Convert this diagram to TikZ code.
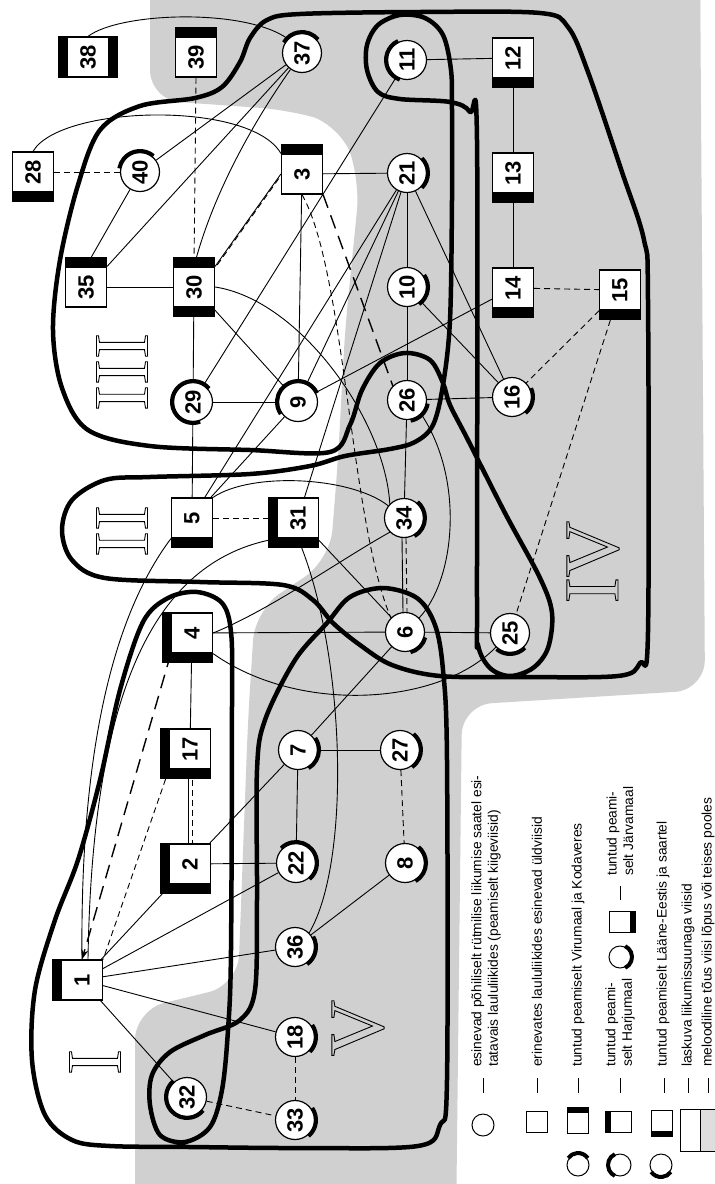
\documentclass[tikz,border=0pt]{standalone}
\usepackage{fontspec}
\setmainfont{Liberation Sans}
\newfontfamily\romanfont{Liberation Serif}
\usepackage{graphicx}
\usetikzlibrary{arrows.meta,calc}

\definecolor{shadegrey}{RGB}{208,208,208}
\definecolor{swatchgrey}{RGB}{222,222,222}

\newcommand\rt[1]{\rotatebox{90}{#1}}
\newcommand\hollow[1]{\special{pdf:literal direct 1 Tr 0.9 w}#1\special{pdf:literal direct 0 Tr}}
% thick arc on a tune circle: [radius]{node}{from}{to}, angles as seen
\newcommand\ringarc[4][21]{%
  \pgfmathsetmacro\arcfrom{-(#3)}\pgfmathsetmacro\arcto{-(#4)}%
  \draw[line width=4pt] ([shift={(\arcfrom:#1)}]#2.center) arc[start angle=\arcfrom, end angle=\arcto, radius=#1];}

\pgfdeclarelayer{shadelayer}
\pgfdeclarelayer{linklayer}
\pgfdeclarelayer{grouplayer}
\pgfsetlayers{shadelayer,linklayer,grouplayer,main}

\tikzset{
  tune/.style={circle, draw, line width=1.2pt, fill=white, minimum size=39pt, inner sep=0pt,
    font=\fontsize{22}{22}\selectfont\bfseries},
  tunebox/.style={rectangle, draw, line width=1.2pt, fill=white, minimum width=41pt, minimum height=40pt,
    inner sep=0pt, font=\fontsize{22}{22}\selectfont\bfseries},
  barT/.style={append after command={\pgfextra{\fill ([yshift=-1pt]\tikzlastnode.north west) rectangle ([yshift=#1]\tikzlastnode.north east);}}},
  barT/.default=9pt,
  barB/.style={append after command={\pgfextra{\fill ([yshift=1pt]\tikzlastnode.south west) rectangle ([yshift=-#1]\tikzlastnode.south east);}}},
  barB/.default=9pt,
  barL/.style={append after command={\pgfextra{\fill ([xshift=1pt]\tikzlastnode.south west) rectangle ([xshift=-#1]\tikzlastnode.north west);}}},
  barL/.default=9pt,
  barR/.style={append after command={\pgfextra{\fill ([xshift=-1pt]\tikzlastnode.south east) rectangle ([xshift=#1]\tikzlastnode.north east);}}},
  barR/.default=9pt,
  barLB/.style={barL=#1, barB=#1, append after command={\pgfextra{\fill ([xshift=-#1]\tikzlastnode.south west) rectangle ([yshift=-#1]\tikzlastnode.south west);}}},
  barLB/.default=9pt,
  link/.style={line width=0.9pt},
  dlink/.style={line width=0.9pt, dash pattern=on 6pt off 4pt},
  ldlink/.style={line width=1.4pt, dash pattern=on 14pt off 8pt},
  group/.style={line width=4.5pt, line join=round},
  roman/.style={inner sep=0pt, font=\romanfont\fontsize{78}{78}\selectfont},
  legtext/.style={rotate=90, anchor=west, align=left, inner sep=0pt, font=\fontsize{13.8}{16.5}\selectfont},
  legmark/.style={line width=1pt}
}

\begin{document}
\begin{tikzpicture}[x=1pt, y=-1pt]
\useasboundingbox (0,0) rectangle (715,1184);

% ---- grey shading (melodic rise) ----
\begin{pgfonlayer}{shadelayer}
\fill[shadegrey, rounded corners=30pt] (150,-40) -- (700,-40) -- (705,690) -- (462,705) -- (456,1230)
  -- (135,1230) -- (135,1010) -- (238,985) -- (248,720) -- (255,610) -- (330,560) -- (338,460)
  -- (345,330) -- (360,180) -- (340,125) -- (290,110) -- (150,100) -- cycle;
\end{pgfonlayer}

% ---- tunes: circles ----
\node[tune] (v37) at (302,53) {\rt{37}};
\node[tune] (v40) at (140,172) {\rt{40}};
\node[tune] (v11) at (407,60) {\rt{11}};
\node[tune] (v21) at (407,173) {\rt{21}};
\node[tune] (v10) at (407,287) {\rt{10}};
\node[tune] (v29) at (193,402) {\rt{29}};
\node[tune] (v9) at (298,402) {\rt{9}};
\node[tune] (v26) at (407,400) {\rt{26}};
\node[tune] (v16) at (512,397) {\rt{16}};
\node[tune] (v34) at (404,518) {\rt{34}};
\node[tune] (v6) at (405,632) {\rt{6}};
\node[tune] (v25) at (510,633) {\rt{25}};
\node[tune] (v7) at (298,750) {\rt{7}};
\node[tune] (v27) at (400,750) {\rt{27}};
\node[tune] (v22) at (296,863) {\rt{22}};
\node[tune] (v8) at (405,863) {\rt{8}};
\node[tune] (v36) at (295,947) {\rt{36}};
\node[tune] (v18) at (295,1037) {\rt{18}};
\node[tune] (v33) at (295,1120) {\rt{33}};
\node[tune] (v32) at (187,1097) {\rt{32}};

% ---- tunes: boxes ----
\node[tunebox, barL, barR] (v38) at (88,57) {\rt{38}};
\node[tunebox, barT] (v39) at (196,57) {\rt{39}};
\node[tunebox, barB] (v28) at (33,172) {\rt{28}};
\node[tunebox, barT] (v3) at (302,174) {\rt{3}};
\node[tunebox, barT] (v35) at (86,287) {\rt{35}};
\node[tunebox, barT, barB] (v30) at (194,287) {\rt{30}};
\node[tunebox, barB] (v12) at (513,58) {\rt{12}};
\node[tunebox, barB] (v13) at (513,173) {\rt{13}};
\node[tunebox, barB] (v14) at (513,288) {\rt{14}};
\node[tunebox, barB] (v15) at (620,290) {\rt{15}};
\node[tunebox, barB] (v5) at (192,518) {\rt{5}};
\node[tunebox, barLB] (v31) at (298,518) {\rt{31}};
\node[tunebox, barLB] (v4) at (192,633) {\rt{4}};
\node[tunebox, barLB] (v17) at (190,749) {\rt{17}};
\node[tunebox, barLB] (v2) at (190,864) {\rt{2}};
\node[tunebox, barL] (v1) at (82,980) {\rt{1}};

% ---- thick arcs on circles ----
\ringarc{v37}{40}{150}
\ringarc{v40}{50}{170}
\ringarc{v11}{115}{250}
\ringarc{v21}{-45}{45}
\ringarc{v10}{-55}{35}
\ringarc{v29}{40}{290}
\ringarc{v9}{25}{215}
\ringarc{v26}{-80}{-10}
\ringarc{v16}{-50}{25}
\ringarc{v34}{-60}{50}
\ringarc{v6}{-75}{-15}
\ringarc{v25}{-130}{-45}
\ringarc{v7}{-60}{35}
\ringarc{v27}{-55}{50}
\ringarc{v22}{-50}{135}
\ringarc{v8}{-60}{50}
\ringarc{v36}{-55}{30}
\ringarc{v18}{-45}{35}
\ringarc{v33}{-50}{35}
\ringarc{v32}{130}{320}

% ---- roman group numbers ----
\node[roman] (rI) at (95,1062) {\rt{\hollow{I}}};
\node[roman] (rII) at (122,531) {\rt{\hollow{II}}};
\node[roman] (rIII) at (122,372) {\rt{\hollow{III}}};
\node[roman] (rIV) at (593,562) {\rt{\hollow{IV}}};
\node[roman] (rV) at (358,1028) {\rt{\hollow{V}}};

% ---- connections ----
\begin{pgfonlayer}{linklayer}
\draw[link] (v38.north) .. controls (120,12) and (245,8) .. (v37.north west);
\draw[dlink] (v39.south) -- (v30.north);
\draw[dlink] (v28.east) -- (v40.west);
\draw[link] (v28.north) .. controls (60,105) and (250,100) .. (v3.north west);
\draw[link] (v40) -- (v37);
\draw[link] (v40) -- (v35.north);
\draw[link] (v35.north east) -- (v37);
\draw[link] (v30.north) .. controls (215,185) and (262,110) .. (v37);
\draw[link] (v11) -- (v29);
\draw[link] (v35) -- (v30);
\draw[link] (v30) -- (v29);
\draw[link] (v30.north east) -- (v3.west);
\draw[dlink, transform canvas={shift={(2.2pt,1.5pt)}}] (v30.north east) -- (v3.west);
\draw[link] (v30) -- (v9);
\draw[link] (v30.east) .. controls (300,300) and (385,420) .. (v34.north west);
\draw[link] (v3) -- (v21);
\draw[link] (v3) -- (v9);
\draw[dlink] (v3.south) .. controls (345,270) and (350,520) .. (v6.north west);
\draw[ldlink] (v3.south east) -- (v26.north west);
\draw[link] (v11) -- (v12);
\draw[link] (v12) -- (v13);
\draw[link] (v13) -- (v14);
\draw[dlink] (v14) -- (v15);
\draw[dlink] (v15) -- (v16);
\draw[dlink] (v15) -- (v25);
\draw[link] (v21) -- (v10);
\draw[link] (v10) -- (v26);
\draw[link] (v21) -- (v16);
\draw[link] (v10) -- (v16);
\draw[link] (v26) -- (v16);
\draw[link] (v21) -- (v9);
\draw[link] (v21) -- (v5);
\draw[link] (v21) -- (v31);
\draw[link] (v14) -- (v9);
\draw[link] (v29) -- (v9);
\draw[link] (v29) -- (v5);
\draw[link] (v9) -- (v5);
\draw[dlink] (v5) -- (v31);
\draw[link] (v5.north east) .. controls (250,472) and (350,476) .. (v34);
\draw[link] (v5.south west) .. controls (110,620) and (80,760) .. (v1.north);
\draw[link] (v31.south west) .. controls (150,560) and (92,700) .. ([xshift=6pt]v1.north);
\draw[ldlink, -{Stealth[length=10pt, width=7pt]}] (v4.south west) -- (v1.north);
\draw[dlink] (v17.south west) -- (v1.north east);
\draw[link] (v1) -- (v2);
\draw[link] (v1) -- (v22);
\draw[link] (v1) -- (v36);
\draw[link] (v1) -- (v18);
\draw[link] (v1) -- (v32);
\draw[link] ([xshift=-2pt]v17.south) -- ([xshift=-2pt]v2.north);
\draw[dlink] ([xshift=2pt]v17.south) -- ([xshift=2pt]v2.north);
\draw[link] (v2) -- (v22);
\draw[link] (v2) -- (v7);
\draw[link] (v4) -- (v17);
\draw[link] (v4) -- (v6);
\draw[link] (v4.south east) .. controls (300,715) and (440,705) .. (v25.south west);
\draw[link] (v4.east) .. controls (270,610) and (340,560) .. (v34.south west);
\draw[link] (v7) -- (v27);
\draw[link] (v7) -- (v22);
\draw[dlink] (v27) -- (v8);
\draw[link] (v8) -- (v36);
\draw[link] (v6) -- (v7);
\draw[link] (v6) -- (v25);
\draw[link] ([xshift=-2pt]v34.south) -- ([xshift=-2pt]v6.north);
\draw[dlink] ([xshift=2pt]v34.south) -- ([xshift=2pt]v6.north);
\draw[link] (v6) -- (v31);
\draw[link] (v31.south) .. controls (345,650) and (352,860) .. (v36.north east);
\draw[link] (v26) -- (v34);
\draw[link] (v26.south east) .. controls (465,480) and (455,580) .. (v6.north east);
\draw[dlink] (v18) -- (v33);
\draw[dlink] (v32) -- (v33);
\end{pgfonlayer}

% ---- group outlines ----
\begin{pgfonlayer}{grouplayer}
\draw[group] plot[smooth cycle, tension=0.55] coordinates {
  (452,110) (452,200) (450,320) (443,385) (433,425) (415,442) (390,449) (345,456) (310,466)
  (250,474) (150,477) (105,480) (72,500) (62,530) (72,560) (105,578) (200,582) (283,585)
  (313,600) (333,623) (360,645) (392,665) (440,676) (520,677) (618,676) (640,663) (648,632)
  (648,300) (644,240) (622,172) (588,72) (568,27) (540,13) (420,12) (300,14) (267,20)
  (250,38) (240,62) (222,87) (195,98) (140,106) (100,130) (78,185) (60,260) (53,330)
  (62,388) (88,430) (150,446) (250,450) (330,452) (350,425) (362,390) (380,363) (405,353)
  (430,360) (443,383) (450,405) (468,440) (505,513) (540,578) (552,613) (548,648) (533,668)
  (510,676) (490,668) (478,645) (477,600) (477,140) (470,112) (450,102) (400,99) (378,92)
  (367,70) (367,45) (378,25) (400,15) (425,18) (443,35) (451,70)};
\draw[group] plot[smooth cycle, tension=0.55] coordinates {
  (327,623) (350,597) (383,588) (417,598) (435,625) (443,670) (447,760) (447,1080) (440,1125)
  (418,1146) (300,1148) (190,1147) (110,1146) (72,1140) (45,1115) (32,1060) (35,990)
  (55,920) (78,860) (100,780) (120,690) (143,622) (168,598) (197,592) (222,603) (231,632)
  (232,700) (231,950) (228,1030) (222,1090) (210,1127) (185,1142) (160,1135) (150,1105)
  (152,1075) (170,1052) (205,1035) (240,1020) (255,990) (257,900) (257,770) (265,720) (295,660)};
\end{pgfonlayer}

% ---- legend ----
\node[tune, minimum size=22pt, line width=1pt] (lgA) at (483,1125) {};
\node[tunebox, minimum width=21pt, minimum height=21pt, line width=1pt] (lgB) at (537,1122) {};
\node[tunebox, minimum width=21pt, minimum height=21pt, line width=1pt, barT=5pt] (lgC) at (578,1123) {};
\node[tune, minimum size=22pt, line width=1pt] (lgD) at (578,1165) {};
\node[tunebox, minimum width=21pt, minimum height=21pt, line width=1pt, barL=5pt] (lgE) at (621,1122) {};
\node[tune, minimum size=22pt, line width=1pt] (lgF) at (620,1165) {};
\node[tune, minimum size=22pt, line width=1pt] (lgG) at (620,957) {};
\node[tunebox, minimum width=21pt, minimum height=21pt, line width=1pt, barR=5pt] (lgH) at (620,922) {};
\node[tunebox, minimum width=21pt, minimum height=21pt, line width=1pt, barB=5pt] (lgI) at (662,1121) {};
\node[tune, minimum size=22pt, line width=1pt] (lgJ) at (661,1165) {};
\ringarc[12]{lgD}{35}{145}
\ringarc[12]{lgF}{115}{245}
\ringarc[12]{lgG}{-65}{65}
\ringarc[12]{lgJ}{215}{325}
\node[draw, line width=0.8pt, minimum width=20pt, minimum height=42pt, inner sep=0pt] (lgK) at (690,1130) {};
\node[draw, line width=0.8pt, fill=swatchgrey, minimum width=16pt, minimum height=42pt, inner sep=0pt] (lgL) at (708,1130) {};

\draw[legmark] (483,1078) -- (483,1093);
\draw[legmark] (537,1078) -- (537,1093);
\draw[legmark] (578,1078) -- (578,1093);
\draw[legmark] (620,1078) -- (620,1093);
\draw[legmark] (620,886) -- (620,900);
\draw[legmark] (664,1078) -- (664,1093);
\draw[legmark] (688,1078) -- (688,1093);
\draw[legmark] (708,1078) -- (708,1093);

\node[legtext] (txA) at (486,1067) {esinevad põhiliselt rütmilise liikumise saatel esi-\\tatavais laululiikides (peamiselt kiigeviisid)};
\node[legtext] (txB) at (537,1067) {erinevates laululiikides esinevad üldviisid};
\node[legtext] (txC) at (578,1067) {tuntud peamiselt Virumaal ja Kodaveres};
\node[legtext] (txD) at (620,1067) {tuntud peami-\\selt Harjumaal};
\node[legtext] (txE) at (620,876) {tuntud peami-\\selt Järvamaal};
\node[legtext] (txF) at (663,1067) {tuntud peamiselt Lääne-Eestis ja saartel};
\node[legtext] (txG) at (688,1067) {laskuva liikumissuunaga viisid};
\node[legtext] (txH) at (708,1067) {meloodiline tõus viisi lõpus või teises pooles};

\end{tikzpicture}
\end{document}
